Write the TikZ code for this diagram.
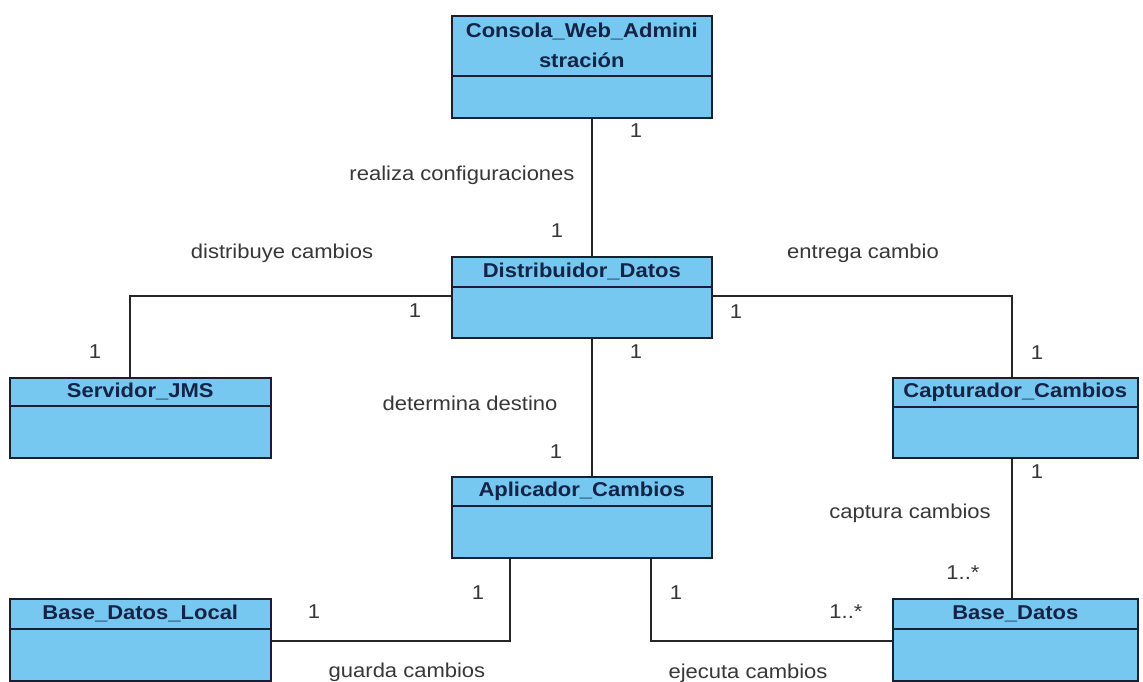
\documentclass[tikz,border=0pt]{standalone}
\usepackage{fontspec}
\setmainfont{Liberation Sans}
\newfontfamily\umlfont[FakeStretch=1.1]{Liberation Sans}
\usetikzlibrary{calc}
\definecolor{clsfill}{RGB}{118,200,240}
\definecolor{clsline}{RGB}{25,30,50}
\definecolor{ttlcol}{RGB}{20,35,70}
\definecolor{lblcol}{RGB}{55,55,55}
\tikzset{
  cls/.style={draw=clsline, fill=clsfill, line width=1.2pt, rectangle, inner sep=0pt, anchor=north west},
  sepline/.style={draw=clsline, line width=1.2pt},
  ttl/.style={font=\umlfont\bfseries\fontsize{15}{22.5}\selectfont, text=ttlcol, align=center, inner sep=0pt},
  lbl/.style={font=\umlfont\fontsize{15}{18}\selectfont, text=lblcol, inner sep=0pt},
  conn/.style={draw=black!85, line width=1pt},
}
\newcommand\umlcls[7]{%
  \node[cls, minimum width=#4*0.75pt, minimum height=#5*0.75pt] (#1) at (#2,#3) {};
  \draw[sepline] ($(#1.north west)+(0,#6)$) -- ($(#1.north east)+(0,#6)$);
  \node[ttl] (#1-t) at ($(#1.north)+(0,#6/2)$) {#7};
}
\begin{document}
\begin{tikzpicture}[x=0.75pt, y=-0.75pt]
\useasboundingbox (0,0) rectangle (1143,682);
\fill[white] (0,0) rectangle (1143,682);
% classes
\umlcls{cons}{451}{15}{260}{102}{61}{Consola\_Web\_Admini\\stración}
\umlcls{dist}{451}{256}{260}{81}{31}{Distribuidor\_Datos}
\umlcls{serv}{9}{377}{261}{80}{29}{Servidor\_JMS}
\umlcls{cap}{892}{377}{245}{80}{30}{Capturador\_Cambios}
\umlcls{apl}{451}{476}{260}{81}{30}{Aplicador\_Cambios}
\umlcls{bdl}{9}{598}{261}{82}{31}{Base\_Datos\_Local}
\umlcls{bd}{892}{598}{245}{82}{31}{Base\_Datos}
% helper coordinates
\coordinate (cx) at (592,0);
\coordinate (sj) at (130,296);
\coordinate (cj) at (1012,296);
\coordinate (cv) at (1012,0);
\coordinate (gl) at (510,641);
\coordinate (gr) at (651,641);
% connectors
\draw[conn] (cons.south -| cx) -- (dist.north -| cx);
\draw[conn] (dist.south -| cx) -- (apl.north -| cx);
\draw[conn] (dist.west |- sj) -- (sj) -- (serv.north -| sj);
\draw[conn] (dist.east |- cj) -- (cj) -- (cap.north -| cj);
\draw[conn] (cap.south -| cv) -- (bd.north -| cv);
\draw[conn] (apl.south -| gl) -- (gl) -- (bdl.east |- gl);
\draw[conn] (apl.south -| gr) -- (gr) -- (bd.west |- gr);
% labels
\node[lbl] (m1) at (636,131) {1};
\node[lbl] (l1) at (462,175) {realiza configuraciones};
\node[lbl] (m2) at (557,231) {1};
\node[lbl] (l2) at (282,253) {distribuye cambios};
\node[lbl] (m3) at (415,311) {1};
\node[lbl] (m4) at (95,352) {1};
\node[lbl] (l3) at (863,253) {entrega cambio};
\node[lbl] (m5) at (736,312) {1};
\node[lbl] (m6) at (1037,353) {1};
\node[lbl] (m7) at (636,352) {1};
\node[lbl] (l4) at (470,403) {determina destino};
\node[lbl] (m8) at (556,452) {1};
\node[lbl] (m9) at (1037,472) {1};
\node[lbl] (l5) at (910,513) {captura cambios};
\node[lbl] (m10) at (963,573) {1..*};
\node[lbl] (m11) at (478,593) {1};
\node[lbl] (m12) at (314,612) {1};
\node[lbl] (l6) at (407,672) {guarda cambios};
\node[lbl] (m13) at (676,593) {1};
\node[lbl] (m14) at (846,612) {1..*};
\node[lbl] (l7) at (748,673) {ejecuta cambios};
\end{tikzpicture}
\end{document}
